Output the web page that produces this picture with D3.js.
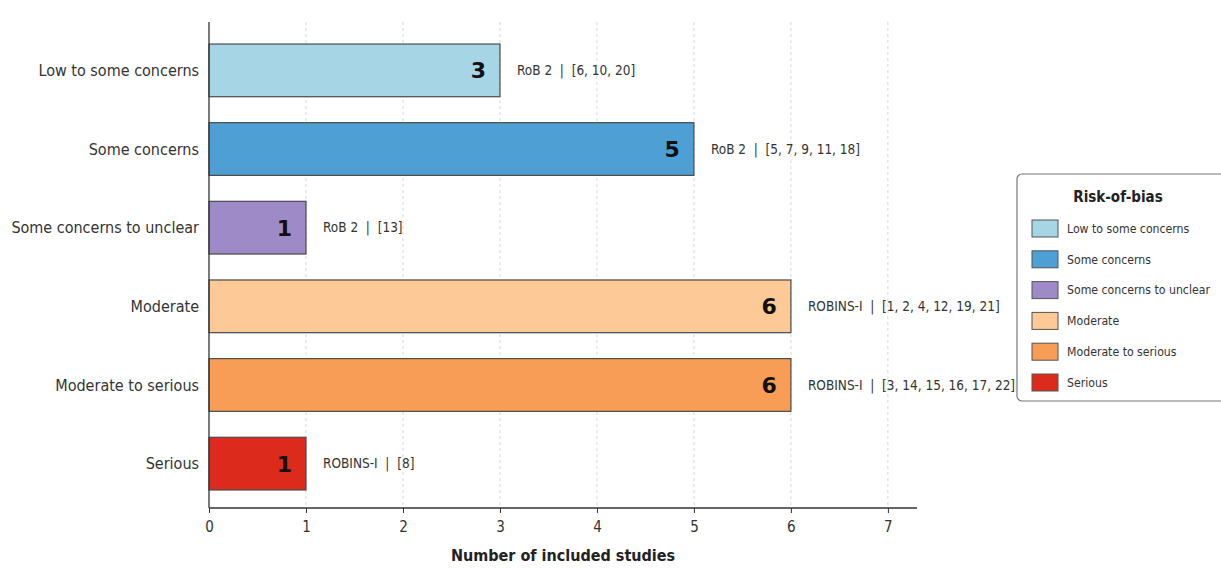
<!DOCTYPE html>
<html><head><meta charset="utf-8">
<script src="https://cdn.jsdelivr.net/npm/d3@7"></script>
<style>
body{margin:0;background:#fff;}
svg text{font-family:"DejaVu Sans Condensed","Liberation Sans Narrow",sans-serif;}
</style></head>
<body><svg id="c" width="1221" height="570"></svg>
<script>
const categories = ["Low to some concerns","Some concerns","Some concerns to unclear","Moderate","Moderate to serious","Serious"];
const counts = [3,5,1,6,6,1];
const tools = ["RoB 2","RoB 2","RoB 2","ROBINS-I","ROBINS-I","ROBINS-I"];
const studies = ["[6, 10, 20]","[5, 7, 9, 11, 18]","[13]","[1, 2, 4, 12, 19, 21]","[3, 14, 15, 16, 17, 22]","[8]"];
const colors = ["#a6d5e6","#4e9fd3","#9e8ac7","#fdc996","#f79d56","#dc2a1c"];
const xTicks = [0,1,2,3,4,5,6,7];

const svg = d3.select("#c");
const mLeft = 209, mRight = 917, mTop = 22, mBottom = 508;
const x = d3.scaleLinear().domain([0,7.3]).range([mLeft,mRight]);
const y = d3.scaleBand().domain(categories).range([mTop,512]).paddingInner(0.33).paddingOuter(0.28);

// gridlines
svg.append("g").selectAll("line").data(xTicks.slice(1)).join("line")
  .attr("x1",d=>x(d)).attr("x2",d=>x(d)).attr("y1",mTop).attr("y2",mBottom)
  .attr("stroke","#d8d8d8").attr("stroke-width",1).attr("stroke-dasharray","3,3");

// bars
svg.append("g").selectAll("rect").data(categories).join("rect")
  .attr("x",x(0)).attr("y",d=>y(d)).attr("width",(d,i)=>x(counts[i])-x(0)).attr("height",y.bandwidth())
  .attr("fill",(d,i)=>colors[i]).attr("stroke","#4a4a4a").attr("stroke-width",1.2);

// value labels
svg.append("g").selectAll("text").data(categories).join("text")
  .attr("x",(d,i)=>x(counts[i])-14).attr("y",d=>y(d)+y.bandwidth()/2).attr("dy","0.36em")
  .attr("text-anchor","end").attr("font-weight","bold").attr("font-size",22).attr("fill","#111")
  .style("font-family","'DejaVu Sans',sans-serif")
  .text((d,i)=>counts[i]);

// annotations
svg.append("g").selectAll("text").data(categories).join("text")
  .attr("x",(d,i)=>x(counts[i])+17).attr("y",d=>y(d)+y.bandwidth()/2).attr("dy","0.35em")
  .attr("font-size",13.5).attr("fill","#333")
  .attr("xml:space","preserve")
  .text((d,i)=>tools[i]+"  |  "+studies[i]);

// y labels
svg.append("g").selectAll("text").data(categories).join("text")
  .attr("x",mLeft-10).attr("y",d=>y(d)+y.bandwidth()/2).attr("dy","0.35em")
  .attr("text-anchor","end").attr("font-size",16).attr("fill","#333").text(d=>d);

// axes
const xAxis = d3.axisBottom(x).tickValues(xTicks).tickSize(5).tickPadding(8).tickFormat(d3.format("d"));
const gx = svg.append("g").attr("transform",`translate(0,${mBottom})`).call(xAxis);
gx.select(".domain").attr("stroke","#333").attr("stroke-width",1.3).attr("d",`M${mLeft},0H${mRight}`);
gx.selectAll(".tick line").attr("stroke","#333");
gx.selectAll(".tick text").attr("font-size",15).attr("fill","#333")
  .style("font-family","'DejaVu Sans Condensed',sans-serif");
svg.append("line").attr("x1",mLeft).attr("x2",mLeft).attr("y1",mTop).attr("y2",mBottom)
  .attr("stroke","#333").attr("stroke-width",1.3);

svg.append("text").attr("x",(mLeft+mRight)/2).attr("y",561).attr("text-anchor","middle")
  .attr("font-size",16).attr("font-weight","bold").attr("fill","#222").text("Number of included studies");

// legend
const lg = svg.append("g").attr("transform","translate(1017,174)");
lg.append("rect").attr("x",0).attr("y",0).attr("width",230).attr("height",227).attr("rx",5)
  .attr("fill","#fff").attr("stroke","#777").attr("stroke-width",1.2);
lg.append("text").attr("x",101).attr("y",28).attr("text-anchor","middle").attr("font-size",15)
  .attr("font-weight","bold").attr("fill","#222").text("Risk-of-bias");
const items = lg.selectAll("g.item").data(categories).join("g").attr("class","item")
  .attr("transform",(d,i)=>`translate(15,${46+i*30.8})`);
items.append("rect").attr("width",26).attr("height",17).attr("fill",(d,i)=>colors[i])
  .attr("stroke","#555").attr("stroke-width",1);
items.append("text").attr("x",35).attr("y",8.5).attr("dy","0.35em").attr("font-size",12.2)
  .attr("fill","#333").text(d=>d);
</script></body></html>
